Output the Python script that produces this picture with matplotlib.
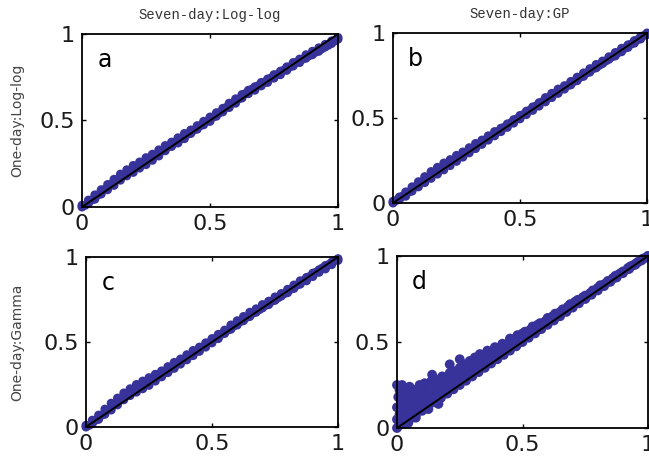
import numpy as np
import matplotlib
matplotlib.use("Agg")
import matplotlib.pyplot as plt

# ── Data ──────────────────────────────────────────────────────────────────────
grid_x = [0.0, 0.025, 0.05, 0.075, 0.1, 0.125, 0.15, 0.175, 0.2, 0.225,
          0.25, 0.275, 0.3, 0.325, 0.35, 0.375, 0.4, 0.425, 0.45, 0.475,
          0.5, 0.525, 0.55, 0.575, 0.6, 0.625, 0.65, 0.675, 0.7, 0.725,
          0.75, 0.775, 0.8, 0.825, 0.85, 0.875, 0.9, 0.925, 0.95, 0.975, 1.0]
half_x = [0.0125, 0.0375, 0.0625, 0.0875, 0.1125, 0.1375, 0.1625, 0.1875,
          0.2125, 0.2375, 0.2625, 0.2875, 0.3125, 0.3375, 0.3625, 0.3875,
          0.4125, 0.4375, 0.4625, 0.4875, 0.5125, 0.5375, 0.5625, 0.5875,
          0.6125, 0.6375, 0.6625, 0.6875, 0.7125, 0.7375, 0.7625, 0.7875,
          0.8125, 0.8375, 0.8625, 0.8875, 0.9125, 0.9375, 0.9625, 0.9875]

a_hi = [0.01, 0.04, 0.07, 0.10, 0.13, 0.16, 0.19, 0.215, 0.24, 0.26,
        0.285, 0.305, 0.33, 0.355, 0.375, 0.40, 0.425, 0.445, 0.47, 0.495,
        0.52, 0.545, 0.57, 0.60, 0.625, 0.65, 0.675, 0.695, 0.72, 0.74,
        0.765, 0.785, 0.81, 0.835, 0.855, 0.88, 0.90, 0.92, 0.94, 0.96, 0.98]
a_mid = [0.01, 0.04, 0.07, 0.10, 0.13, 0.16, 0.185, 0.21, 0.23, 0.25,
         0.275, 0.30, 0.325, 0.35, 0.37, 0.395, 0.42, 0.445, 0.47, 0.495,
         0.52, 0.545, 0.575, 0.60, 0.625, 0.655, 0.68, 0.70, 0.72, 0.745,
         0.765, 0.79, 0.81, 0.835, 0.855, 0.875, 0.895, 0.915, 0.935, 0.96]
a_lo = [0.0, 0.02, 0.045, 0.075, 0.10, 0.125, 0.155, 0.18, 0.20, 0.225,
        0.245, 0.27, 0.295, 0.325, 0.35, 0.37, 0.395, 0.425, 0.45, 0.475,
        0.495, 0.525, 0.55, 0.575, 0.60, 0.63, 0.655, 0.675, 0.70, 0.72,
        0.745, 0.765, 0.79, 0.815, 0.835, 0.86, 0.88, 0.90, 0.925, 0.945, 0.97]

b_hi = [0.01, 0.035, 0.065, 0.095, 0.125, 0.155, 0.185, 0.21, 0.235, 0.255,
        0.28, 0.30, 0.325, 0.35, 0.37, 0.395, 0.42, 0.44, 0.465, 0.49,
        0.515, 0.54, 0.565, 0.59, 0.62, 0.645, 0.67, 0.69, 0.715, 0.74,
        0.765, 0.79, 0.815, 0.835, 0.86, 0.885, 0.91, 0.93, 0.955, 0.98, 1.0]
b_mid = [0.015, 0.04, 0.065, 0.095, 0.125, 0.15, 0.175, 0.20, 0.225, 0.25,
         0.27, 0.295, 0.32, 0.345, 0.37, 0.395, 0.42, 0.445, 0.47, 0.495,
         0.52, 0.545, 0.57, 0.595, 0.62, 0.645, 0.67, 0.69, 0.715, 0.74,
         0.765, 0.79, 0.81, 0.835, 0.86, 0.885, 0.91, 0.935, 0.96, 0.985]
b_lo = [0.0, 0.02, 0.04, 0.07, 0.095, 0.12, 0.145, 0.17, 0.195, 0.22,
        0.245, 0.27, 0.295, 0.32, 0.345, 0.37, 0.395, 0.42, 0.445, 0.47,
        0.495, 0.52, 0.545, 0.57, 0.595, 0.62, 0.645, 0.67, 0.695, 0.72,
        0.745, 0.77, 0.795, 0.82, 0.845, 0.865, 0.89, 0.915, 0.94, 0.965, 0.99]

c_hi = [0.01, 0.04, 0.07, 0.105, 0.14, 0.17, 0.20, 0.225, 0.25, 0.27,
        0.29, 0.31, 0.33, 0.355, 0.38, 0.40, 0.425, 0.45, 0.47, 0.495,
        0.52, 0.545, 0.57, 0.60, 0.625, 0.65, 0.675, 0.695, 0.72, 0.74,
        0.765, 0.785, 0.81, 0.835, 0.86, 0.88, 0.905, 0.925, 0.95, 0.97, 0.99]
c_mid = [0.01, 0.04, 0.07, 0.10, 0.13, 0.16, 0.19, 0.215, 0.235, 0.255,
         0.275, 0.30, 0.32, 0.345, 0.37, 0.395, 0.42, 0.445, 0.47, 0.495,
         0.52, 0.545, 0.57, 0.595, 0.62, 0.645, 0.67, 0.69, 0.715, 0.74,
         0.76, 0.785, 0.81, 0.835, 0.86, 0.885, 0.91, 0.935, 0.955, 0.98]
c_lo = [0.0, 0.02, 0.045, 0.075, 0.10, 0.13, 0.16, 0.185, 0.205, 0.225,
        0.245, 0.27, 0.295, 0.32, 0.345, 0.37, 0.395, 0.42, 0.445, 0.47,
        0.495, 0.52, 0.55, 0.575, 0.60, 0.625, 0.65, 0.675, 0.70, 0.72,
        0.745, 0.77, 0.79, 0.815, 0.84, 0.86, 0.885, 0.91, 0.93, 0.955, 0.98]

d_top_x = [0.0, 0.01, 0.02, 0.03, 0.05, 0.07, 0.09, 0.11, 0.14, 0.16,
           0.18, 0.21, 0.23, 0.25, 0.27, 0.29, 0.31, 0.33, 0.36, 0.39,
           0.42, 0.45, 0.48, 0.51, 0.54, 0.57, 0.6, 0.63, 0.66, 0.69,
           0.72, 0.75, 0.78, 0.81, 0.84, 0.87, 0.9, 0.93, 0.96, 0.99]
d_top_y = [0.25, 0.22, 0.25, 0.20, 0.24, 0.22, 0.25, 0.26, 0.31, 0.28,
           0.30, 0.37, 0.33, 0.40, 0.37, 0.39, 0.41, 0.43, 0.45, 0.47,
           0.49, 0.52, 0.54, 0.56, 0.59, 0.61, 0.64, 0.665, 0.69, 0.72,
           0.745, 0.77, 0.80, 0.83, 0.855, 0.885, 0.91, 0.94, 0.965, 0.99]

d_mid_x = [0.0, 0.01, 0.02, 0.03, 0.04, 0.05, 0.06, 0.07, 0.08, 0.09,
           0.1, 0.12, 0.13, 0.15, 0.17, 0.19, 0.2, 0.22, 0.24, 0.26,
           0.28, 0.3, 0.32, 0.34, 0.36, 0.38, 0.4, 0.43, 0.46, 0.5,
           0.54, 0.58, 0.62, 0.66, 0.7, 0.74, 0.78, 0.82, 0.86, 0.9, 0.94]
d_mid_y = [0.12, 0.08, 0.15, 0.10, 0.18, 0.13, 0.09, 0.16, 0.20, 0.13,
           0.18, 0.20, 0.16, 0.23, 0.21, 0.26, 0.24, 0.29, 0.30, 0.32,
           0.34, 0.35, 0.37, 0.39, 0.41, 0.43, 0.44, 0.47, 0.50, 0.53,
           0.57, 0.60, 0.64, 0.68, 0.72, 0.755, 0.79, 0.83, 0.87, 0.905, 0.945]

d_fill_x = [0.005, 0.015, 0.025, 0.035, 0.045, 0.055, 0.065, 0.075, 0.085, 0.095,
            0.105, 0.115, 0.125, 0.135, 0.145, 0.155, 0.165, 0.175, 0.185, 0.195,
            0.21, 0.23, 0.25, 0.27, 0.29, 0.31, 0.33, 0.35, 0.37, 0.39,
            0.41, 0.44, 0.47, 0.5, 0.53, 0.56, 0.59, 0.62, 0.65, 0.68,
            0.71, 0.74, 0.77, 0.8, 0.83, 0.86, 0.89, 0.92, 0.95, 0.98]
d_fill_y = [0.18, 0.02, 0.21, 0.14, 0.03, 0.22, 0.19, 0.06, 0.23, 0.16,
            0.22, 0.24, 0.11, 0.27, 0.19, 0.25, 0.14, 0.27, 0.23, 0.28,
            0.32, 0.27, 0.35, 0.31, 0.36, 0.38, 0.39, 0.42, 0.43, 0.45,
            0.46, 0.49, 0.52, 0.55, 0.57, 0.60, 0.62, 0.65, 0.675, 0.705,
            0.735, 0.76, 0.785, 0.815, 0.84, 0.87, 0.90, 0.93, 0.955, 0.985]

d_low_x = [0.0, 0.01, 0.02, 0.03, 0.04, 0.05, 0.06, 0.07, 0.08, 0.09,
           0.1, 0.11, 0.12, 0.14, 0.16, 0.18, 0.2, 0.22, 0.24, 0.26,
           0.28, 0.3, 0.33, 0.36, 0.39, 0.42, 0.45, 0.48, 0.52, 0.56,
           0.6, 0.64, 0.68, 0.72, 0.76, 0.8, 0.84, 0.88, 0.92, 0.96, 1.0]
d_low_y = [0.05, 0.03, 0.06, 0.05, 0.08, 0.07, 0.10, 0.10, 0.12, 0.11,
           0.14, 0.13, 0.15, 0.17, 0.19, 0.21, 0.22, 0.25, 0.26, 0.28,
           0.30, 0.32, 0.345, 0.375, 0.405, 0.435, 0.46, 0.49, 0.53, 0.57,
           0.61, 0.65, 0.69, 0.73, 0.77, 0.81, 0.85, 0.89, 0.925, 0.965, 1.0]

col_titles = ["Seven-day:Log-log", "Seven-day:GP"]
row_titles = ["One-day:Log-log", "One-day:Gamma"]
letters = ["a", "b", "c", "d"]
ticks = [0, 0.5, 1]
tick_labels = ["0", "0.5", "1"]

# ── Layout (pixel boxes measured on the 649x461 reference) ───────────────────
W, H = 649, 461
boxes = [(82, 338, 34, 207), (393, 647, 33, 203),
         (86, 338, 257, 427), (397, 648, 256, 428)]
DOT = "#37339a"

fig = plt.figure(figsize=(W / 100, H / 100), dpi=100)
fig.patch.set_facecolor("white")

axes = []
for (l, r, t, b) in boxes:
    ax = fig.add_axes([l / W, (H - b) / H, (r - l) / W, (b - t) / H])
    axes.append(ax)

series = [
    [(grid_x, a_hi), (half_x, a_mid), (grid_x, a_lo)],
    [(grid_x, b_hi), (half_x, b_mid), (grid_x, b_lo)],
    [(grid_x, c_hi), (half_x, c_mid), (grid_x, c_lo)],
    [(d_top_x, d_top_y), (d_mid_x, d_mid_y), (d_fill_x, d_fill_y),
     (d_low_x, d_low_y), (grid_x, grid_x)],
]

for i, ax in enumerate(axes):
    for xs, ys in series[i]:
        ax.scatter(xs, ys, s=42 if i < 3 else 50, color=DOT, edgecolors="none",
                   zorder=2, clip_on=False)
    ax.plot([0, 1], [0, 1], color="black", linewidth=1.4, zorder=3)
    ax.set_xlim(0, 1)
    ax.set_ylim(0, 1)
    ax.set_xticks(ticks)
    ax.set_yticks(ticks)
    ax.set_xticklabels(tick_labels)
    ax.set_yticklabels(tick_labels)
    ax.tick_params(direction="in", top=True, right=True, length=3, width=1,
                   labelsize=16, pad=5)
    for lab in ax.get_xticklabels() + ax.get_yticklabels():
        lab.set_fontfamily("DejaVu Sans")
        lab.set_color("#1a1a1a")
    for sp in ax.spines.values():
        sp.set_linewidth(1.3)
    ax.text(0.09, 0.85, letters[i], transform=ax.transAxes, fontsize=17,
            family="DejaVu Sans", ha="center", va="center", zorder=4)

for j, title in enumerate(col_titles):
    axes[j].set_title(title, family="Liberation Mono", fontsize=10,
                      color="#333333", pad=11)

for k, label in enumerate(row_titles):
    l, r, t, b = boxes[2 * k]
    fig.text(17 / W, 1 - ((t + b) / 2) / H, label, rotation=90,
             family="Liberation Sans Narrow", fontsize=10, color="#444444",
             ha="center", va="center")

plt.savefig("out.png", dpi=100)
